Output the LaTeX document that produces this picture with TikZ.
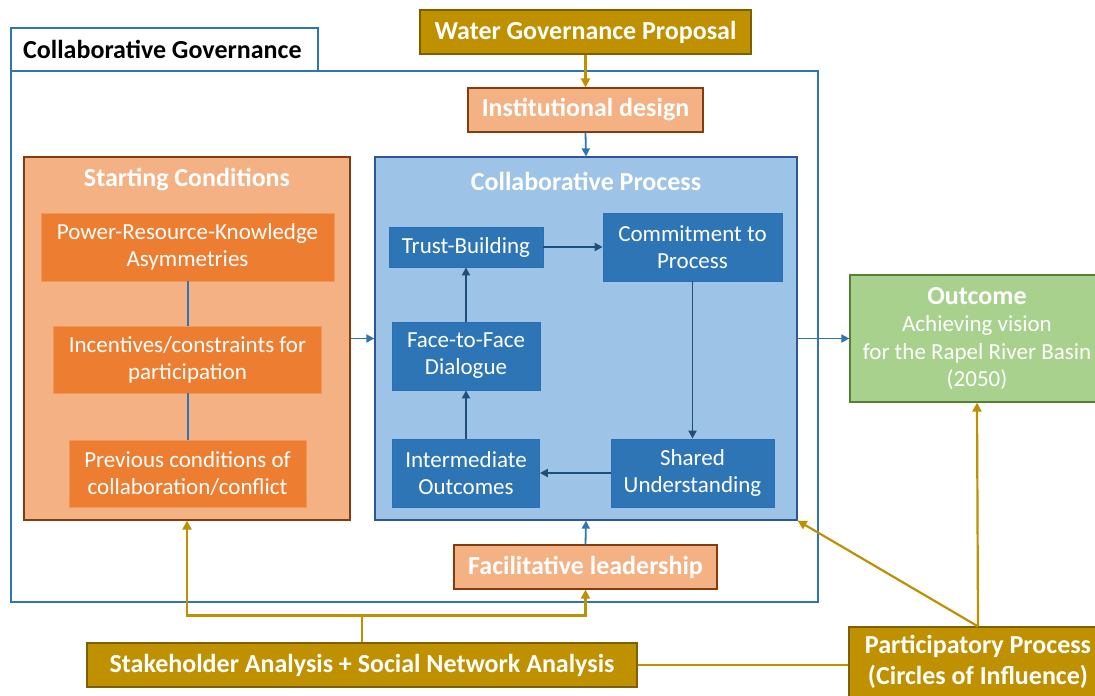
\documentclass[tikz,border=0pt]{standalone}
\usepackage{fontspec}
\setmainfont{Carlito}
\usetikzlibrary{arrows.meta}
\definecolor{gold}{HTML}{BF9000}
\definecolor{golddark}{HTML}{7F6000}
\definecolor{frameblue}{HTML}{2E75B6}
\definecolor{peach}{HTML}{F4B183}
\definecolor{peachborder}{HTML}{843C0C}
\definecolor{orangebox}{HTML}{ED7D31}
\definecolor{lightblue}{HTML}{9DC3E6}
\definecolor{midblue}{HTML}{2E75B6}
\definecolor{midblueborder}{HTML}{2A6EB8}
\definecolor{darkblue}{HTML}{1F4E79}
\definecolor{cpborder}{HTML}{2F5597}
\definecolor{outgreen}{HTML}{A9D18E}
\definecolor{outgreenborder}{HTML}{548235}
\tikzset{
  base/.style={rectangle, inner sep=0pt, align=center, text=white},
  goldbox/.style={base, fill=gold, draw=golddark, line width=1.2pt, font=\fontsize{26}{28}\selectfont\bfseries},
  peachbox/.style={base, fill=peach, draw=peachborder, line width=1.2pt, font=\fontsize{26}{28}\selectfont\bfseries},
  orangeinner/.style={base, fill=orangebox, draw=orangebox!80!white, line width=0.8pt, font=\fontsize{23}{27}\selectfont},
  blueinner/.style={base, fill=midblue, draw=midblueborder, line width=0.8pt, font=\fontsize{23}{27}\selectfont},
  titletext/.style={text=white, font=\fontsize{26}{28}\selectfont\bfseries, inner sep=0pt},
  bluearrow/.style={draw=frameblue, line width=1.8pt, -{Triangle[length=8pt,width=8pt]}},
  darkarrow/.style={draw=darkblue, line width=1.8pt, -{Triangle[length=8pt,width=8pt]}},
  goldline/.style={draw=gold, line width=2.2pt},
  goldarrow/.style={goldline, -{Triangle[length=9pt,width=9pt]}},
  blueline/.style={draw=frameblue, line width=2pt}
}
\begin{document}
\begin{tikzpicture}[x=1pt,y=-1pt]
\useasboundingbox (0,0) rectangle (1095,696);
\clip (0,0) rectangle (1095,696);
% frame
\node[rectangle, draw=frameblue, line width=1.8pt, minimum width=807pt, minimum height=531pt, inner sep=0pt] (frame) at (414.5,336.5) {};
\node[rectangle, draw=frameblue, line width=1.8pt, fill=white, minimum width=307pt, minimum height=43pt, inner sep=0pt] (cgtab) at (164.5,49.5) {};
\node[anchor=west, inner sep=0pt, font=\fontsize{26}{28}\selectfont\bfseries] (cgtext) at (23,49.5) {Collaborative Governance};
% top
\node[goldbox, minimum width=331pt, minimum height=44pt] (wgp) at (585.5,32) {Water Governance Proposal};
\node[peachbox, minimum width=235pt, minimum height=44pt] (id) at (585.5,110) {Institutional design};
% starting conditions
\node[peachbox, minimum width=326pt, minimum height=363pt] (sc) at (187,338.5) {};
\node[titletext] (sctitle) at (187,180) {Starting Conditions};
\node[orangeinner, minimum width=293pt, minimum height=68pt] (prk) at (187.5,247) {Power-Resource-Knowledge\\Asymmetries};
\node[orangeinner, minimum width=268pt, minimum height=67pt] (inc) at (187.5,359.5) {Incentives/constraints for\\participation};
\node[orangeinner, minimum width=237pt, minimum height=67pt] (prev) at (187.5,473.5) {Previous conditions of\\collaboration/conflict};
\draw[blueline] (prk.south) -- (inc.north);
\draw[blueline] (inc.south) -- (prev.north);
% collaborative process
\node[base, fill=lightblue, draw=cpborder, line width=1.2pt, minimum width=422pt, minimum height=363pt] (cp) at (586,338.5) {};
\node[titletext] (cptitle) at (586,181) {Collaborative Process};
\node[blueinner, minimum width=154pt, minimum height=40pt] (tb) at (466,247) {Trust-Building};
\node[blueinner, minimum width=179pt, minimum height=68pt] (ctp) at (692.5,247) {Commitment to\\Process};
\node[blueinner, minimum width=148pt, minimum height=68pt] (ftf) at (466,356) {Face-to-Face\\Dialogue};
\node[blueinner, minimum width=147pt, minimum height=68pt] (io) at (466,473) {Intermediate\\Outcomes};
\node[blueinner, minimum width=163pt, minimum height=68pt] (su) at (692.5,473) {Shared\\Understanding};
\draw[darkarrow] (tb.east) -- (ctp.west);
\draw[darkarrow] (ctp.south) -- (su.north);
\draw[darkarrow] (su.west) -- (io.east);
\draw[darkarrow] (io.north) -- (ftf.south);
\draw[darkarrow] (ftf.north) -- (tb.south);
% outcome
\node[base, fill=outgreen, draw=outgreenborder, line width=1.2pt, minimum width=254pt, minimum height=127pt, font=\fontsize{23}{27.5}\selectfont] (out) at (977,338.5) {{\fontsize{26}{27.5}\selectfont\bfseries Outcome}\\Achieving vision\\for the Rapel River Basin\\(2050)};
% bottom
\node[peachbox, minimum width=263pt, minimum height=44pt] (fl) at (585.5,567) {Facilitative leadership};
\node[goldbox, minimum width=550pt, minimum height=44pt] (sa) at (362,665) {Stakeholder Analysis + Social Network Analysis};
\node[goldbox, minimum width=258pt, minimum height=70pt, font=\fontsize{26}{31}\selectfont\bfseries] (pp) at (978,662) {Participatory Process\\(Circles of Influence)};
% connectors
\draw[goldarrow] (wgp.south) -- (id.north);
\draw[bluearrow] (id.south) -- (cp.north);
\draw[bluearrow] (sc.east) -- (cp.west);
\draw[bluearrow] (cp.east) -- (out.west);
\draw[bluearrow] (fl.north) -- (cp.south);
\draw[goldline] (sa.north) -- ++(0,-27) coordinate (j);
\draw[goldarrow] (j) -| (sc.south);
\draw[goldarrow] (j) -| (fl.south);
\draw[goldline] (sa.east) -- (pp.west |- sa.east);
\draw[goldarrow] (pp.north) -- (out.south);
\draw[goldarrow] (pp.north) -- (cp.south east);
\end{tikzpicture}
\end{document}
